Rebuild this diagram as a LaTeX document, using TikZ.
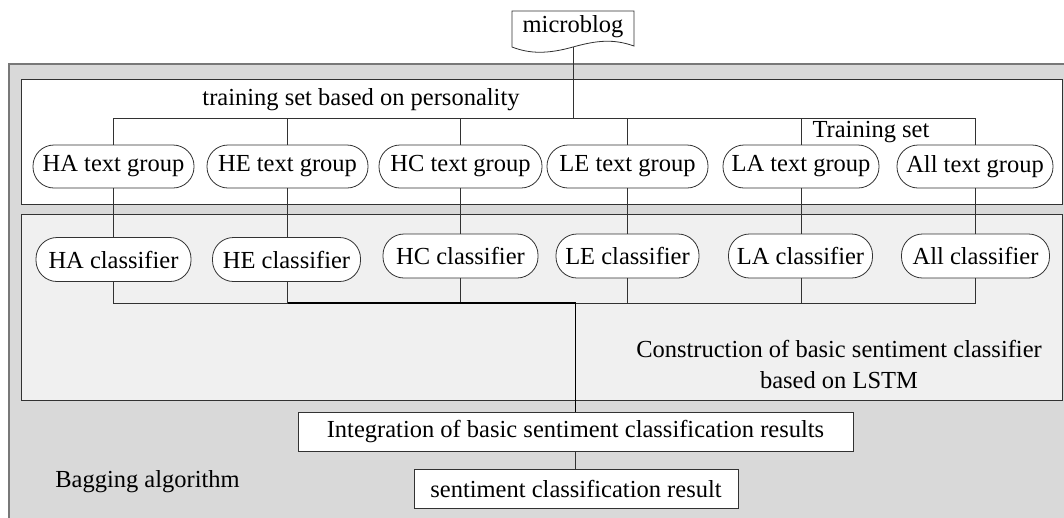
\documentclass[tikz,border=0pt]{standalone}
\usepackage{fontspec}
\setmainfont{Liberation Serif}
\definecolor{outerg}{RGB}{217,217,217}
\definecolor{innerg}{RGB}{240,240,240}
\definecolor{edge}{RGB}{50,50,50}
\definecolor{frameg}{RGB}{120,120,120}
\begin{document}
\begin{tikzpicture}[x=1pt,y=-1pt,
  every node/.style={font=\fontsize{24.5}{31}\selectfont},
  pill/.style={draw=edge, fill=white, rounded corners=21pt, minimum height=43pt, minimum width=#1, inner sep=0pt, line width=0.8pt},
  rectbox/.style={draw=edge, fill=white, minimum width=#1, minimum height=39pt, inner sep=0pt, line width=0.8pt},
  wire/.style={draw=edge, line width=0.9pt},
  thickwire/.style={draw=black, line width=1.8pt},
  label/.style={inner sep=0pt}]
\useasboundingbox (0,0) rectangle (1064,517);
\clip (0,0) rectangle (1064,517);
\fill[white] (0,0) rectangle (1064,517);
% regions
\draw[fill=outerg, draw=frameg, line width=1.2pt] (9,64) rectangle (1090,540);
\draw[fill=white, draw=edge, line width=0.9pt] (21,79) rectangle (1062,204.5);
\draw[fill=innerg, draw=edge, line width=0.9pt] (21,214) rectangle (1062,400);
% microblog document shape
\draw[draw=edge, fill=white, line width=0.8pt] (512,11) -- (634,11) -- (634,46)
  .. controls (614,39) and (598,40) .. (573,47)
  .. controls (548,54) and (530,54) .. (512,47) -- cycle;
\node[label] (mb) at (573,27) {microblog};
\coordinate (mbB) at (573,47);
% labels
\node[label, anchor=base] (tsp) at (361,105) {training set based on personality};
\node[label, anchor=base] (tset) at (871,137) {Training set};
\node[label, anchor=base, align=center] (constr) at (839,388) {Construction of basic sentiment classifier\\based on LSTM};
\node[label, anchor=base] (bag) at (147.5,487) {Bagging algorithm};
% text groups
\node[pill=161pt] (tgHA) at (113.5,166.5) {HA text group};
\node[pill=161pt] (tgHE) at (287.5,166.5) {HE text group};
\node[pill=163pt] (tgHC) at (460.5,166.5) {HC text group};
\node[pill=161pt] (tgLE) at (627.5,166.5) {LE text group};
\node[pill=156pt] (tgLA) at (801,166.5) {LA text group};
\node[pill=156pt] (tgAll) at (975,166.5) {All text group};
% classifiers
\node[pill=155pt, minimum height=44pt] (clHA) at (113.5,259.5) {HA classifier};
\node[pill=148pt, minimum height=44pt] (clHE) at (286.5,259.5) {HE classifier};
\node[pill=155pt, minimum height=44pt] (clHC) at (460.5,256) {HC classifier};
\node[pill=143pt, minimum height=44pt] (clLE) at (627.5,256) {LE classifier};
\node[pill=144pt, minimum height=44pt] (clLA) at (800.5,256) {LA classifier};
\node[pill=148pt, minimum height=44pt] (clAll) at (975.5,256) {All classifier};
% bottom boxes
\node[rectbox=555pt] (integ) at (575.5,431.5) {Integration of basic sentiment classification results};
\node[rectbox=324pt] (sent) at (576,488.5) {sentiment classification result};
% connectors
\coordinate (busT) at (573,118);
\coordinate (busB) at (575.5,303);
\draw[wire] (mbB) -- (busT);
\foreach \n in {HA,HE,HC,LE,LA,All}{
  \draw[wire] (tg\n.north) |- (busT);
  \draw[wire] (tg\n.south) -- (tg\n.south |- cl\n.north);
  \draw[wire] (tg\n.south |- cl\n.south) |- (busB);
}
\draw[thickwire] (tgHE.south |- busB) -- (busB) -- (integ.north);
\draw[wire] (integ.south) -- (integ.south |- sent.north);
\end{tikzpicture}
\end{document}
